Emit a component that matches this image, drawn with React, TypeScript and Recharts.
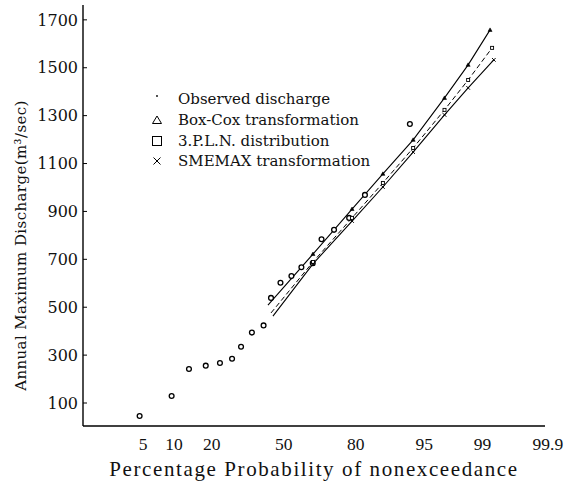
import { ComposedChart, Line, Scatter, XAxis, YAxis, Legend, Label } from "recharts"

// observed annual maximum discharge (plotting position in %, m3/sec)
const OBS_P = [4.6, 9.5, 13.4, 18.1, 22.8, 27.3, 30.9, 35.5, 40.7, 44.1, 48.5, 53.6, 58.2, 63.3, 67.1, 72.2, 77.8, 82.9, 93.0]
const OBS_Q = [46, 129, 242, 256, 267, 285, 335, 394, 424, 539, 602, 630, 667, 684, 784, 823, 873, 969, 1265]

// fitted curves
const BOXCOX_P = [42.7, 63.4, 78.8, 87.7, 93.5, 97.0, 98.45, 99.21]
const BOXCOX_Q = [509, 722, 910, 1057, 1199, 1374, 1512, 1658]
const PLN_P = [44.1, 63.4, 78.8, 87.7, 93.5, 97.0, 98.45, 99.26]
const PLN_Q = [476, 689, 873, 1019, 1165, 1324, 1449, 1583]
const SMEMAX_P = [45.0, 63.4, 78.8, 87.7, 93.5, 97.0, 98.45, 99.3]
const SMEMAX_Q = [463, 681, 860, 1002, 1148, 1303, 1416, 1533]

const X_TICKS = [5, 10, 20, 50, 80, 95, 99, 99.9]
const X_TICK_LABELS = ["5", "10", "20", "50", "80", "95", "99", "99.9"]
const Y_TICKS = [100, 300, 500, 700, 900, 1100, 1300, 1500, 1700]

const LEGEND_ITEMS = ["Observed discharge", "Box-Cox transformation", "3.P.L.N. distribution", "SMEMAX transformation"]

// inverse normal cdf (Acklam) -> normal probability paper scale
function probit(p: number) {
  const a = [-39.69683028665376, 220.9460984245205, -275.9285104469687, 138.357751867269, -30.66479806614716, 2.506628277459239]
  const b = [-54.47609879822406, 161.5858368580409, -155.6989798598866, 66.80131188771972, -13.28068155288572]
  const c = [-0.007784894002430293, -0.3223964580411365, -2.400758277161838, -2.549732539343734, 4.374664141464968, 2.938163982698783]
  const d = [0.007784695709041462, 0.3224671290700398, 2.445134137142996, 3.754408661907416]
  const pl = 0.02425
  if (p < pl) {
    const q = Math.sqrt(-2 * Math.log(p))
    return (((((c[0] * q + c[1]) * q + c[2]) * q + c[3]) * q + c[4]) * q + c[5]) / ((((d[0] * q + d[1]) * q + d[2]) * q + d[3]) * q + 1)
  }
  if (p <= 1 - pl) {
    const q = p - 0.5
    const r = q * q
    return ((((((a[0] * r + a[1]) * r + a[2]) * r + a[3]) * r + a[4]) * r + a[5]) * q) / (((((b[0] * r + b[1]) * r + b[2]) * r + b[3]) * r + b[4]) * r + 1)
  }
  const q = Math.sqrt(-2 * Math.log(1 - p))
  return -(((((c[0] * q + c[1]) * q + c[2]) * q + c[3]) * q + c[4]) * q + c[5]) / ((((d[0] * q + d[1]) * q + d[2]) * q + d[3]) * q + 1)
}

const toPoints = (ps: number[], qs: number[]) => ps.map((p, i) => ({ z: probit(p / 100), q: qs[i] }))

const obsData = toPoints(OBS_P, OBS_Q)
const boxcoxData = toPoints(BOXCOX_P, BOXCOX_Q)
const plnData = toPoints(PLN_P, PLN_Q)
const smemaxData = toPoints(SMEMAX_P, SMEMAX_Q)

const SERIF = "'DejaVu Serif', serif"

// markers on the fitted lines are tiny in the scan
function Marker({ kind, x, y }: { kind: string; x: number; y: number }) {
  if (kind === "tri") return <path d={`M${x},${y - 2} L${x + 2},${y + 1.5} L${x - 2},${y + 1.5} Z`} fill="#000" stroke="#000" strokeWidth={0.6} />
  if (kind === "sq") return <rect x={x - 1.5} y={y - 1.5} width={3} height={3} fill="#fff" stroke="#000" strokeWidth={0.9} />
  return <path d={`M${x - 1.8},${y - 1.8} L${x + 1.8},${y + 1.8} M${x + 1.8},${y - 1.8} L${x - 1.8},${y + 1.8}`} stroke="#000" strokeWidth={1} />
}

const makeDot = (kind: string) => (props: any) => {
  const { cx, cy, index } = props
  if (index === 0) return <g key={`d-${kind}-${index}`} />
  return <Marker key={`d-${kind}-${index}`} kind={kind} x={cx} y={cy} />
}

function LegendBox() {
  const icons = [
    <circle cx={6} cy={4} r={0.9} fill="#000" />,
    <path d="M6,3 L10.5,10.5 L1.5,10.5 Z" fill="none" stroke="#000" strokeWidth={1} />,
    <rect x={1.5} y={2.5} width={9} height={9} fill="none" stroke="#000" strokeWidth={1} />,
    <path d="M2.5,3.5 L9.5,10.5 M9.5,3.5 L2.5,10.5" stroke="#000" strokeWidth={1} />,
  ]
  return (
    <div style={{ fontFamily: SERIF, fontSize: 15, color: "#111" }}>
      {LEGEND_ITEMS.map((name, i) => (
        <div key={name} style={{ display: "flex", alignItems: "center", height: 20.7 }}>
          <svg width={12} height={14} style={{ marginRight: 15 }}>
            {icons[i]}
          </svg>
          <span>{name}</span>
        </div>
      ))}
    </div>
  )
}

export default function App() {
  return (
    <div style={{ position: "absolute", left: 0, top: 0, background: "#fff" }}>
      <ComposedChart width={567} height={486} margin={{ top: 5, right: 22, left: 23, bottom: 0 }}>
        <XAxis
          type="number"
          dataKey="z"
          domain={[-2.347, 3.056]}
          allowDataOverflow
          ticks={X_TICKS.map((p) => probit(p / 100))}
          tickFormatter={(_v: number, i: number) => X_TICK_LABELS[i]}
          interval={0}
          height={60}
          tickLine={false}
          tickSize={0}
          tickMargin={12}
          axisLine={{ stroke: "#000", strokeWidth: 1.4 }}
          tick={{ fontFamily: "'Liberation Serif', serif", fontSize: 17.5, fill: "#111" }}
        >
          <Label
            content={(props: any) => {
              const vb = props.viewBox
              return (
                <text
                  x={vb.x + vb.width / 2}
                  y={vb.y + 50}
                  textAnchor="middle"
                  fontFamily="'Liberation Serif', serif"
                  fontSize={21}
                  letterSpacing={1.6}
                  fill="#111"
                >
                  Percentage Probability of nonexceedance
                </text>
              )
            }}
          />
        </XAxis>
        <YAxis
          type="number"
          domain={[4, 1762]}
          allowDataOverflow
          ticks={Y_TICKS}
          interval={0}
          width={60}
          tickSize={-4}
          tickMargin={9}
          tickLine={{ stroke: "#000", strokeWidth: 1 }}
          axisLine={{ stroke: "#000", strokeWidth: 1.4 }}
          tick={{ fontFamily: SERIF, fontSize: 16, fill: "#111" }}
        >
          <Label
            content={(props: any) => {
              const vb = props.viewBox
              const x = vb.x - 2
              const y = vb.y + vb.height / 2 + 30
              return (
                <text
                  x={x}
                  y={y}
                  transform={`rotate(-90, ${x}, ${y})`}
                  textAnchor="middle"
                  dominantBaseline="central"
                  fontFamily={SERIF}
                  fontSize={15}
                  letterSpacing={0.4}
                  fill="#111"
                >
                  Annual Maximum Discharge(m³/sec)
                </text>
              )
            }}
          />
        </YAxis>
        <Legend
          layout="horizontal"
          verticalAlign="middle"
          align="center"
          content={() => <LegendBox />}
          wrapperStyle={{ left: 151, top: 89, width: 250 }}
        />
        <Line
          data={boxcoxData}
          dataKey="q"
          stroke="#000"
          strokeWidth={1.1}
          dot={makeDot("tri")}
          activeDot={false}
          isAnimationActive={false}
          legendType="none"
        />
        <Line
          data={plnData}
          dataKey="q"
          stroke="#000"
          strokeWidth={1}
          strokeDasharray="5 3"
          dot={makeDot("sq")}
          activeDot={false}
          isAnimationActive={false}
          legendType="none"
        />
        <Line
          data={smemaxData}
          dataKey="q"
          stroke="#000"
          strokeWidth={1.1}
          dot={makeDot("x")}
          activeDot={false}
          isAnimationActive={false}
          legendType="none"
        />
        <Scatter
          data={obsData}
          dataKey="q"
          isAnimationActive={false}
          legendType="none"
          shape={(props: any) => <circle cx={props.cx} cy={props.cy} r={2.4} fill="#fff" stroke="#000" strokeWidth={1.3} />}
        />
      </ComposedChart>
    </div>
  )
}
